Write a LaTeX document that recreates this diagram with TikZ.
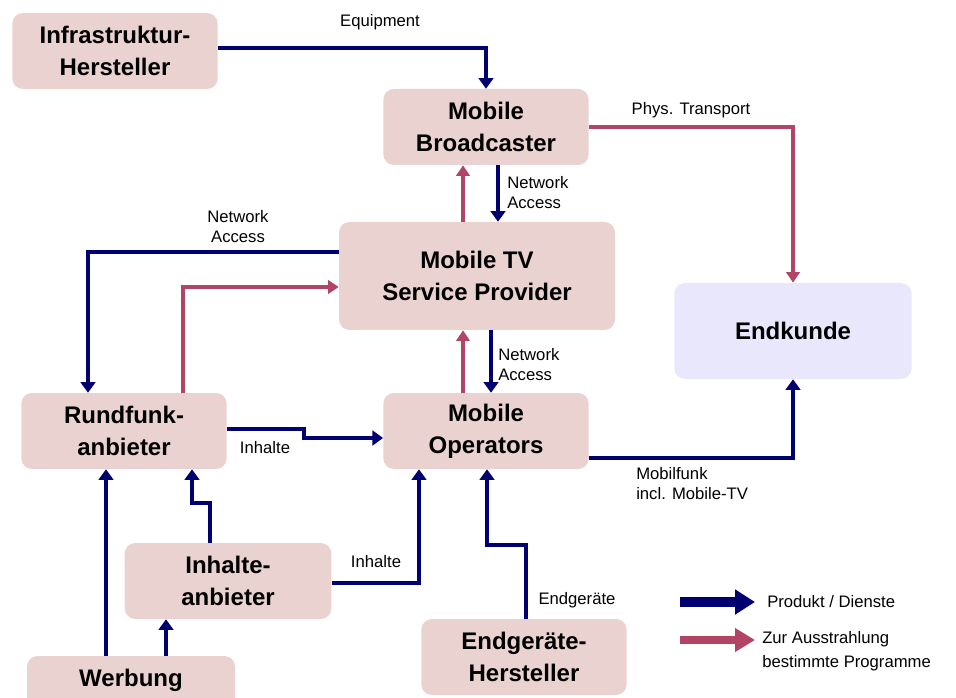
\documentclass[tikz,border=0pt]{standalone}
\usepackage{fontspec}
\setmainfont{Liberation Sans}
\usetikzlibrary{arrows.meta,positioning}
\definecolor{rose}{RGB}{234,210,208}
\definecolor{lavender}{RGB}{233,231,252}
\definecolor{navy}{RGB}{0,0,112}
\definecolor{plum}{RGB}{178,68,102}

\begin{document}
\begin{tikzpicture}[x=0.75pt,y=-0.75pt,
actor/.style={fill=rose,rounded corners=8pt,minimum width=154pt,minimum height=57pt,align=center,inner sep=0pt,font=\bfseries\fontsize{18}{24}\selectfont},
kunde/.style={actor,fill=lavender,minimum width=178pt,minimum height=72pt},
lbl/.style={font=\fontsize{12.5}{15}\selectfont,align=center,inner sep=0pt},
prod/.style={draw=navy,line width=3pt,-{Triangle[length=8pt,width=11pt]}},
prog/.style={draw=plum,line width=2.5pt,-{Triangle[length=8pt,width=10pt]}},
legprod/.style={draw=navy,line width=7pt,-{Triangle[length=15pt,width=18pt]}},
legprog/.style={draw=plum,line width=6.5pt,-{Triangle[length=15pt,width=17pt]}}
]
\useasboundingbox (0,0) rectangle (956,698);
\clip (0,0) rectangle (956,698);

\node[actor] (infra) at (115,51) {Infrastruktur-\\Hersteller};
\node[actor] (bcast) at (486,127) {Mobile\\Broadcaster};
\node[actor,minimum width=207pt,minimum height=81pt] (sp) at (477,276) {Mobile TV\\Service Provider};
\node[kunde] (endk) at (793,331) {Endkunde};
\node[actor] (rund) at (124,431) {Rundfunk-\\anbieter};
\node[actor] (ops) at (486,431) {Mobile\\Operators};
\node[actor,minimum width=155pt] (inh) at (228,581) {Inhalte-\\anbieter};
\node[actor,minimum width=156pt,text height=13pt,text depth=24pt] (werb) at (131,694) {Werbung};
\node[actor] (endg) at (524,657) {Endgeräte-\\Hersteller};

\draw[prod] (infra.east |- 0,48) -| (bcast.north);
\draw[prog] (bcast.east) -| (endk.north);
\draw[prod] (498,0 |- bcast.south) -- (498,0 |- sp.north);
\draw[prog] (463,0 |- sp.north) -- (463,0 |- bcast.south);
\draw[prod] (sp.west |- 0,252) -| (88,0 |- rund.north);
\draw[prog] (183,0 |- rund.north) |- (sp.west |- 0,287);
\draw[prod] (491,0 |- sp.south) -- (491,0 |- ops.north);
\draw[prog] (463,0 |- ops.north) -- (463,0 |- sp.south);
\draw[prod] (rund.east |- 0,429) -- (304,429) |- (ops.west |- 0,438);
\draw[prod] (ops.east |- 0,458) -| (endk.south);
\draw[prod] (106,0 |- werb.north) -- (106,0 |- rund.south);
\draw[prod] (210,0 |- inh.north) |- (192,503) -- (192,0 |- rund.south);
\draw[prod] (166,0 |- werb.north) -- (166,0 |- inh.south);
\draw[prod] (inh.east |- 0,583) -| (419,0 |- ops.south);
\draw[prod] (526,0 |- endg.north) |- (487,545) -- (487,0 |- ops.south);

\node[lbl] (equip) at (380,22) {Equipment};
\node[lbl] (phys) at (691,110) {Phys. Transport};
\node[lbl,anchor=west,align=left] (netA) at (507,193) {Network\\Access};
\node[lbl] (netB) at (238,227) {Network\\Access};
\node[lbl,anchor=west,align=left] (netC) at (498,365) {Network\\Access};
\node[lbl] (inhA) at (265,448) {Inhalte};
\node[lbl] (inhB) at (376,562) {Inhalte};
\node[lbl,anchor=west,align=left] (mobil) at (636,484) {Mobilfunk\\incl. Mobile-TV};
\node[lbl] (geraet) at (577,600) {Endgeräte};

\coordinate (legP0) at (680,602);
\coordinate (legP1) at (755,602);
\coordinate (legQ0) at (680,640);
\coordinate (legQ1) at (755,640);
\draw[legprod] (legP0) -- (legP1);
\draw[legprog] (legQ0) -- (legQ1);
\node[lbl,anchor=west] (legPtxt) at (767,602) {Produkt / Dienste};
\node[lbl,anchor=west,align=left,font=\fontsize{12.5}{18}\selectfont] (legQtxt) at (762,651) {Zur Ausstrahlung\\bestimmte Programme};
\end{tikzpicture}
\end{document}
